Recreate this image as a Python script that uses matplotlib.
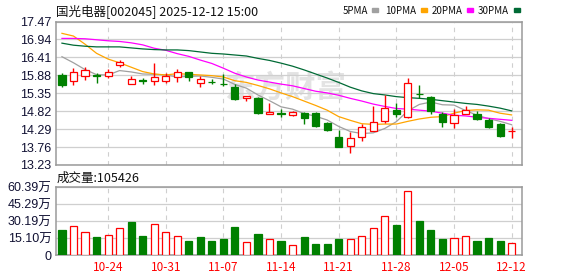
import matplotlib
matplotlib.use("Agg")
import matplotlib.pyplot as plt
import numpy as np

# daily candles, 2025-10-20 .. 2025-12-12
opens = [15.89, 15.72, 15.87, 15.88, 15.86, 16.18, 15.61, 15.73, 15.72, 15.72,
         15.84, 15.97, 15.64, 15.68, 15.63, 15.53, 15.21, 15.21, 14.73, 14.76,
         14.70, 14.76, 14.76, 14.48, 14.05, 13.79, 14.05, 14.24, 14.54, 14.86,
         14.66, 15.33, 15.23, 14.74, 14.48, 14.73, 14.74, 14.56, 14.44, 14.22]
highs = [15.94, 16.09, 16.13, 15.94, 16.08, 16.34, 15.87, 15.81, 16.25, 15.94,
         16.06, 15.97, 15.86, 15.77, 15.91, 15.62, 15.27, 15.25, 15.05, 14.88,
         14.82, 14.80, 14.80, 14.51, 14.26, 14.21, 14.44, 14.98, 15.30, 15.07,
         15.79, 15.59, 15.27, 14.79, 14.88, 14.97, 14.83, 14.61, 14.46, 14.36]
lows = [15.53, 15.59, 15.73, 15.64, 15.79, 16.13, 15.61, 15.62, 15.59, 15.64,
        15.69, 15.72, 15.54, 15.63, 15.56, 15.15, 15.13, 14.74, 14.73, 14.66,
        14.68, 14.44, 14.36, 14.23, 13.77, 13.59, 13.95, 14.22, 14.48, 14.66,
        14.61, 15.20, 14.73, 14.36, 14.31, 14.73, 14.56, 14.31, 14.07, 14.02]
closes = [15.59, 15.99, 16.03, 15.86, 15.97, 16.26, 15.77, 15.72, 15.84, 15.87,
          15.97, 15.84, 15.76, 15.67, 15.62, 15.18, 15.27, 14.77, 14.80, 14.75,
          14.79, 14.63, 14.39, 14.26, 13.77, 14.04, 14.34, 14.51, 14.91, 14.74,
          15.64, 15.32, 14.83, 14.51, 14.71, 14.85, 14.59, 14.36, 14.09, 14.23]
# volume in 万
volume = [22.2, 25.5, 20.4, 16.0, 17.5, 23.7, 29.3, 16.9, 27.2, 20.1,
          16.6, 12.4, 16.0, 12.4, 14.2, 24.9, 11.5, 18.6, 13.9, 12.4,
          8.6, 16.0, 9.8, 9.8, 14.2, 13.9, 16.6, 23.7, 34.4, 26.6,
          56.6, 30.2, 22.2, 14.2, 14.8, 16.6, 12.4, 15.1, 12.4, 10.54]

ma5 = [16.43, 16.25, 16.05, 15.90, 15.89, 16.02, 15.98, 15.92, 15.91, 15.89,
       15.83, 15.85, 15.86, 15.82, 15.77, 15.61, 15.50, 15.30, 15.13, 14.95,
       14.88, 14.75, 14.67, 14.56, 14.37, 14.22, 14.16, 14.18, 14.31, 14.51,
       14.83, 15.02, 15.09, 15.01, 15.00, 14.84, 14.70, 14.60, 14.52, 14.42]
ma10 = [17.12, 17.04, 16.80, 16.53, 16.36, 16.25, 16.12, 15.99, 15.92, 15.89,
        15.93, 15.91, 15.89, 15.87, 15.83, 15.72, 15.67, 15.58, 15.48, 15.36,
        15.25, 15.12, 14.99, 14.85, 14.66, 14.55, 14.45, 14.43, 14.44, 14.44,
        14.52, 14.59, 14.64, 14.66, 14.76, 14.84, 14.86, 14.85, 14.76, 14.71]
ma20 = [16.97, 16.97, 16.96, 16.93, 16.90, 16.88, 16.84, 16.78, 16.68, 16.62,
        16.52, 16.44, 16.33, 16.23, 16.09, 15.94, 15.83, 15.74, 15.68, 15.62,
        15.57, 15.49, 15.41, 15.36, 15.29, 15.20, 15.12, 15.03, 14.96, 14.90,
        14.88, 14.85, 14.82, 14.76, 14.70, 14.68, 14.64, 14.61, 14.58, 14.55]
ma30 = [16.83, 16.77, 16.74, 16.72, 16.72, 16.72, 16.69, 16.66, 16.64, 16.63,
        16.63, 16.61, 16.57, 16.53, 16.51, 16.48, 16.45, 16.38, 16.32, 16.24,
        16.15, 16.04, 15.92, 15.80, 15.67, 15.53, 15.42, 15.34, 15.30, 15.25,
        15.22, 15.20, 15.17, 15.13, 15.09, 15.05, 15.02, 14.97, 14.91, 14.83]

tick_idx = [4, 9, 14, 19, 24, 29, 34, 39]
tick_labels = ["10-24", "10-31", "11-07", "11-14", "11-21", "11-28", "12-05", "12-12"]
price_ticks = [13.23, 13.76, 14.29, 14.82, 15.35, 15.88, 16.41, 16.94, 17.47]
vol_ticks = [0, 15.10, 30.19, 45.29, 60.39]
vol_tick_labels = ["0", "15.10万", "30.19万", "45.29万", "60.39万"]
legend_names = ["5PMA", "10PMA", "20PMA", "30PMA"]

RED = "#ff0000"
GREEN = "#008000"
GRID = "#cfcfcf"
BORDER = "#9a9a9a"
MA_COLORS = ["#a0a0a0", "#ffa500", "#ff00ff", "#006a35"]
CJK = ["Noto Sans CJK SC", "DejaVu Sans"]
NUM = ["Liberation Sans", "Noto Sans CJK SC"]

W, H = 578, 276
fig = plt.figure(figsize=(W / 100, H / 100), dpi=100)


def box(l, t, r, b):
    return [l / W, 1 - b / H, (r - l) / W, (b - t) / H]


ax = fig.add_axes(box(55.5, 21.5, 522, 165))
axv = fig.add_axes(box(55.5, 187, 522, 255))

x = np.arange(len(closes))
o = np.array(opens)
c = np.array(closes)
up = c >= o
cols = np.where(up, RED, GREEN)
lo = np.minimum(o, c)
hi = np.maximum(o, c)

for a in (ax, axv):
    a.set_xlim(-0.56, 39.9)
    for s in a.spines.values():
        s.set_color(BORDER)
        s.set_linewidth(1.1)
    a.set_xticks(tick_idx)
    a.grid(axis="x", color=GRID, linestyle=(0, (4, 4)), linewidth=0.8)
    a.grid(axis="y", color=GRID, linestyle="-", linewidth=0.9)
    a.set_axisbelow(True)
    a.tick_params(length=0)

# watermark
ax.text(0.492, 0.54, "东方财富", transform=ax.transAxes, fontsize=22,
        family=CJK, fontweight="bold", color="#e3e3e3", ha="center",
        va="center", zorder=0.5)

# moving averages
for m, col in zip([ma5, ma10, ma20, ma30], MA_COLORS):
    ax.plot(x, m, color=col, lw=0.9, zorder=2)

# candles
ax.vlines(x, lows, lo, colors=cols, lw=1.0, zorder=3)
ax.vlines(x, hi, highs, colors=cols, lw=1.0, zorder=3)
ax.bar(x, np.maximum(hi - lo, 0.012), 0.62, bottom=lo,
       color=np.where(up, "white", GREEN), edgecolor=cols, linewidth=0.9,
       zorder=4)

ax.set_ylim(13.23, 17.47)
ax.set_yticks(price_ticks)
ax.set_yticklabels([f"{t:.2f}" for t in price_ticks], family=NUM,
                   fontsize=9, color="#111133")
ax.set_xticklabels([])
ax.tick_params(axis="y", pad=3)

# volume, coloured by change against the previous close
prev = np.concatenate([[c[0] + 1], c[:-1]])
vup = c >= prev
vcols = np.where(vup, RED, GREEN)
axv.bar(x, volume, 0.62, color=np.where(vup, "white", GREEN),
        edgecolor=vcols, linewidth=0.9, zorder=3)
axv.set_ylim(0, 60.39)
axv.set_yticks(vol_ticks)
axv.set_yticklabels(vol_tick_labels, family=NUM, fontsize=9, color="#111133")
axv.set_xticklabels(tick_labels, family=CJK, fontsize=8.5, color=RED)
axv.tick_params(axis="y", pad=3)
axv.tick_params(axis="x", pad=4)

# header texts
fig.text(56 / W, 1 - 11 / H, "国光电器[002045] 2025-12-12 15:00", family=CJK,
         fontsize=9, va="center", ha="left", color="#111111")
fig.text(57 / W, 1 - 178 / H, "成交量:105426", family=CJK, fontsize=9,
         va="center", ha="left", color="#111111")

legend_text_x = [343, 385, 432, 478]
legend_box_x = [372, 421, 467, 514]
for tx, bx, name, col in zip(legend_text_x, legend_box_x, legend_names, MA_COLORS):
    fig.text(tx / W, 1 - 11 / H, name, family=CJK, fontsize=7.0,
             va="center", ha="left", color="#111111")
    fig.patches.append(plt.Rectangle((bx / W, 1 - 12 / H), 6 / W, 4 / H,
                                     color=col, transform=fig.transFigure,
                                     figure=fig))

fig.savefig("out.png", dpi=100)
